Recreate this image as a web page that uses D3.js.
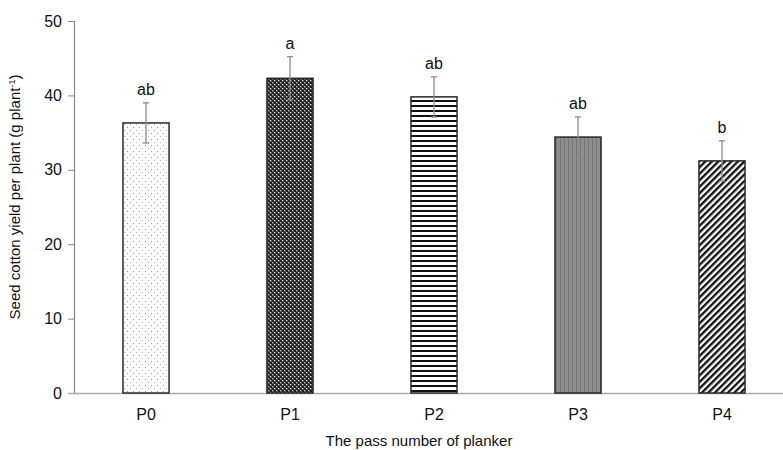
<!DOCTYPE html>
<html>
<head>
<meta charset="utf-8">
<script src="https://cdn.jsdelivr.net/npm/d3@7"></script>
<style>
  body { margin: 0; background: #fff; }
  text { font-family: "Liberation Sans", Arial, sans-serif; fill: #111; }
</style>
</head>
<body>
<div id="container"></div>
<script>
/* CONSTANTS AND GLOBALS */
const width = 783,
  height = 450,
  margin = { top: 21, bottom: 57, left: 74, right: -11 }

/* DATA */
const categories = ["P0", "P1", "P2", "P3", "P4"]
const yieldValues = [36.3, 42.3, 39.8, 34.4, 31.2]
const errValues = [2.7, 2.9, 2.7, 2.7, 2.7]
const letters = ["ab", "a", "ab", "ab", "b"]
const yTicks = [0, 10, 20, 30, 40, 50]
const patternIds = ["dots", "checker", "hstripe", "vstripe", "diag"]

const svg = d3.select("#container")
  .append("svg")
  .attr("width", width)
  .attr("height", height)

// fill patterns
const defs = svg.append("defs")

const p0 = defs.append("pattern").attr("id", "dots")
  .attr("patternUnits", "userSpaceOnUse").attr("width", 6).attr("height", 6)
p0.append("rect").attr("width", 6).attr("height", 6).attr("fill", "#fbfbfb")
p0.append("rect").attr("x", 1).attr("y", 1).attr("width", 1).attr("height", 1).attr("fill", "#9a9a9a")
p0.append("rect").attr("x", 4).attr("y", 4).attr("width", 1).attr("height", 1).attr("fill", "#b5b5b5")

const p1 = defs.append("pattern").attr("id", "checker")
  .attr("patternUnits", "userSpaceOnUse").attr("width", 4).attr("height", 4)
p1.append("rect").attr("width", 4).attr("height", 4).attr("fill", "#5a5a5a")
p1.append("rect").attr("x", 0).attr("y", 0).attr("width", 2).attr("height", 2).attr("fill", "#262626")
p1.append("rect").attr("x", 2).attr("y", 2).attr("width", 2).attr("height", 2).attr("fill", "#1e1e1e")
p1.append("rect").attr("x", 2).attr("y", 0).attr("width", 1).attr("height", 1).attr("fill", "#e4e4e4")
p1.append("rect").attr("x", 0).attr("y", 2).attr("width", 1).attr("height", 1).attr("fill", "#b0b0b0")

const p2 = defs.append("pattern").attr("id", "hstripe")
  .attr("patternUnits", "userSpaceOnUse").attr("width", 8).attr("height", 5)
p2.append("rect").attr("width", 8).attr("height", 5).attr("fill", "#fff")
p2.append("rect").attr("y", 0).attr("width", 8).attr("height", 2).attr("fill", "#111")

const p3 = defs.append("pattern").attr("id", "vstripe")
  .attr("patternUnits", "userSpaceOnUse").attr("width", 4).attr("height", 8)
p3.append("rect").attr("width", 4).attr("height", 8).attr("fill", "#8e8e8e")
p3.append("rect").attr("width", 1).attr("height", 8).attr("fill", "#767676")

const p4 = defs.append("pattern").attr("id", "diag")
  .attr("patternUnits", "userSpaceOnUse").attr("width", 4.6).attr("height", 4.6)
  .attr("patternTransform", "rotate(45)")
p4.append("rect").attr("width", 4.6).attr("height", 4.6).attr("fill", "#fff")
p4.append("rect").attr("width", 2.3).attr("height", 4.6).attr("fill", "#111")

/* SCALES */
const xScale = d3.scaleBand()
  .domain(categories)
  .range([margin.left, width - margin.right])
  .paddingInner(0.68)
  .paddingOuter(0.34)

const yScale = d3.scaleLinear()
  .domain([0, 50])
  .range([height - margin.bottom, margin.top])

/* AXES */
const yAxis = d3.axisLeft(yScale).tickValues(yTicks).tickSize(6).tickPadding(6)
const yG = svg.append("g")
  .attr("transform", `translate(${margin.left},0)`)
  .call(yAxis)
yG.select(".domain").attr("stroke", "#888").attr("stroke-width", 1.2)
yG.selectAll(".tick line").attr("stroke", "#888")
yG.selectAll(".tick text").attr("font-size", 16).attr("fill", "#111")

const xAxis = d3.axisBottom(xScale).tickSize(0).tickPadding(16)
const xG = svg.append("g")
  .attr("transform", `translate(0,${yScale(0)})`)
  .call(xAxis)
xG.select(".domain").attr("stroke", "#aaa").attr("stroke-width", 1.5)
  .attr("d", `M${margin.left - 6},0.5H${width}`)
xG.selectAll(".tick text").attr("font-size", 16).attr("fill", "#111")

/* BARS */
const rows = categories.map((c, i) => ({
  cat: c, value: yieldValues[i], err: errValues[i], letter: letters[i], pat: patternIds[i]
}))

svg.selectAll("rect.bar")
  .data(rows)
  .join("rect")
  .attr("class", "bar")
  .attr("x", d => xScale(d.cat))
  .attr("y", d => yScale(d.value))
  .attr("width", xScale.bandwidth())
  .attr("height", d => yScale(0) - yScale(d.value))
  .attr("fill", d => `url(#${d.pat})`)
  .attr("stroke", "#2a2a2a")
  .attr("stroke-width", 1.5)

// error bars
const cx = d => xScale(d.cat) + xScale.bandwidth() / 2
const eb = svg.selectAll("g.err")
  .data(rows)
  .join("g")
  .attr("class", "err")
  .attr("stroke", "#8c8c8c")
  .attr("stroke-width", 1.3)
eb.append("line")
  .attr("x1", cx).attr("x2", cx)
  .attr("y1", d => yScale(d.value + d.err))
  .attr("y2", d => yScale(d.value - d.err))
eb.append("line")
  .attr("x1", d => cx(d) - 3).attr("x2", d => cx(d) + 3)
  .attr("y1", d => yScale(d.value + d.err)).attr("y2", d => yScale(d.value + d.err))
eb.append("line")
  .attr("x1", d => cx(d) - 3).attr("x2", d => cx(d) + 3)
  .attr("y1", d => yScale(d.value - d.err)).attr("y2", d => yScale(d.value - d.err))

// significance letters
svg.selectAll("text.letter")
  .data(rows)
  .join("text")
  .attr("class", "letter")
  .attr("x", cx)
  .attr("y", d => yScale(d.value + d.err) - 8)
  .attr("text-anchor", "middle")
  .attr("font-size", 16)
  .text(d => d.letter)

/* TITLES */
const yTitle = svg.append("text")
  .attr("transform", `translate(20,${yScale(25) - 10}) rotate(-90)`)
  .attr("text-anchor", "middle")
  .attr("font-size", 15)
yTitle.append("tspan").text("Seed cotton yield per plant (g plant")
yTitle.append("tspan").attr("dy", -5).attr("font-size", 9).text("-1")
yTitle.append("tspan").attr("dy", 5).text(")")

svg.append("text")
  .attr("x", 419)
  .attr("y", 446)
  .attr("text-anchor", "middle")
  .attr("font-size", 15)
  .text("The pass number of planker")
</script>
</body>
</html>
